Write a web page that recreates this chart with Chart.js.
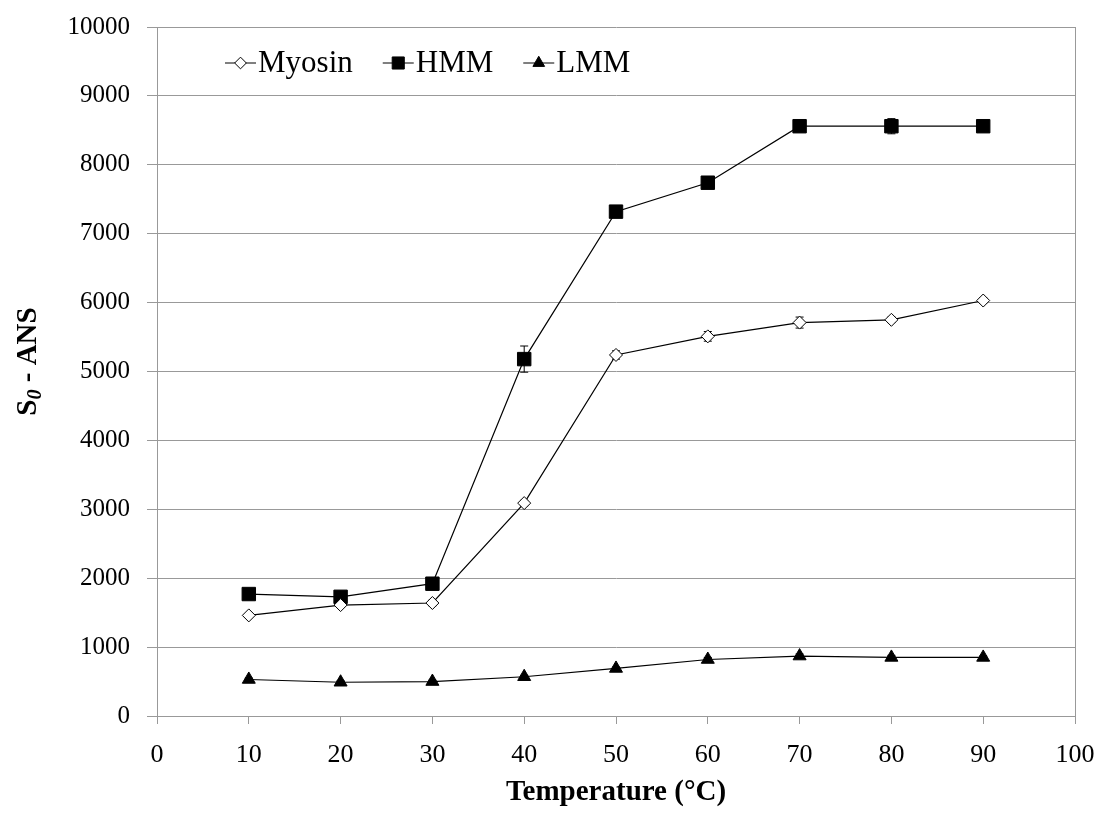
<!DOCTYPE html>
<html>
<head>
<meta charset="utf-8">
<script src="https://cdn.jsdelivr.net/npm/chart.js@4.4.0/dist/chart.umd.min.js"></script>
<style>
  html, body { margin: 0; padding: 0; background: #fff; }
  #wrap { width: 1100px; height: 820px; }
</style>
</head>
<body>
<div id="wrap"><canvas id="myChart" width="1100" height="820"></canvas></div>
<script>
// Temperatures (x axis) and S0 values
const temps = [10, 20, 30, 40, 50, 60, 70, 80, 90];
const myosin = [1460, 1610, 1640, 3090, 5240, 5510, 5710, 5750, 6030];
const hmm = [1770, 1730, 1920, 5180, 7320, 7740, 8560, 8560, 8560];
const lmm = [530, 490, 500, 570, 690, 820, 870, 850, 850];

// error bar half-heights
const myosinErr = [20, 30, 40, 40, 60, 70, 80, 40, 40];
const hmmErr = [40, 40, 50, 190, 50, 40, 50, 110, 40];
const lmmErr = [20, 20, 20, 20, 20, 30, 30, 30, 20];

const seriesNames = ["Myosin", "HMM", "LMM"];
const xTicks = [0, 100, 10];       // min, max, step
const yTicks = [0, 10000, 1000];

const serif = "'Liberation Serif', 'Times New Roman', serif";

function points(vals) {
    let out = [];
    for (let i = 0; i < temps.length; i++) {
        out.push({x: temps[i], y: vals[i]});
    }
    return out;
}

// Draws the vertical error bars under the markers
const errorBars = {
    id: 'errorBars',
    beforeDatasetsDraw(chart) {
        const ctx = chart.ctx;
        const xs = chart.scales.x, ys = chart.scales.y;
        ctx.save();
        ctx.strokeStyle = '#000';
        ctx.lineWidth = 1;
        chart.data.datasets.forEach(function(ds) {
            for (let i = 0; i < ds.data.length; i++) {
                let px = xs.getPixelForValue(ds.data[i].x);
                let top = ys.getPixelForValue(ds.data[i].y + ds.err[i]);
                let bot = ys.getPixelForValue(ds.data[i].y - ds.err[i]);
                ctx.beginPath();
                ctx.moveTo(px, top); ctx.lineTo(px, bot);
                ctx.moveTo(px - 4, top); ctx.lineTo(px + 4, top);
                ctx.moveTo(px - 4, bot); ctx.lineTo(px + 4, bot);
                ctx.stroke();
            }
        });
        ctx.restore();
    }
};

// Legend inside the plot (line + marker + name) and the y title with subscript
const extras = {
    id: 'extras',
    afterDraw(chart) {
        const ctx = chart.ctx;
        const area = chart.chartArea;
        ctx.save();

        // legend
        let x = area.left + 68;
        let y = area.top + 36;
        ctx.font = "31px " + serif;
        ctx.textBaseline = 'middle';
        chart.data.datasets.forEach(function(ds) {
            ctx.strokeStyle = '#000';
            ctx.lineWidth = 1;
            ctx.beginPath();
            ctx.moveTo(x, y); ctx.lineTo(x + 31, y);
            ctx.stroke();
            ctx.fillStyle = ds.pointBackgroundColor;
            Chart.helpers.drawPoint(ctx, {
                pointStyle: ds.pointStyle,
                radius: ds.pointRadius * 0.9,
                rotation: 0,
                borderWidth: 1
            }, x + 15.5, y);
            ctx.fillStyle = '#000';
            ctx.fillText(ds.label, x + 33, y + 1);
            x += 33 + ctx.measureText(ds.label).width + 30;
        });

        // y axis title: S0 - ANS
        ctx.translate(29, (area.top + area.bottom) / 2 - 10);
        ctx.rotate(-Math.PI / 2);
        ctx.textBaseline = 'middle';
        ctx.font = "bold 29px " + serif;
        let w1 = ctx.measureText("S").width;
        ctx.font = "bold italic 20px " + serif;
        let w2 = ctx.measureText("0").width;
        ctx.font = "bold 29px " + serif;
        let w3 = ctx.measureText(" - ANS").width;
        let sx = -(w1 + w2 + w3) / 2;
        ctx.fillText("S", sx, 0);
        ctx.font = "bold italic 20px " + serif;
        ctx.fillText("0", sx + w1, 7);
        ctx.font = "bold 29px " + serif;
        ctx.fillText(" - ANS", sx + w1 + w2, 0);
        ctx.restore();
    }
};

const colorsFill = ['#fff', '#000', '#000'];
const styles = ['rectRot', 'rect', 'triangle'];
const radii = [6.5, 9.5, 7.5];
const allVals = [myosin, hmm, lmm];
const allErr = [myosinErr, hmmErr, lmmErr];

let datasets = [];
for (let i = 0; i < seriesNames.length; i++) {
    datasets.push({
        label: seriesNames[i],
        data: points(allVals[i]),
        err: allErr[i],
        borderColor: '#000',
        borderWidth: 1.2,
        pointStyle: styles[i],
        pointRadius: radii[i],
        pointBackgroundColor: colorsFill[i],
        pointBorderColor: '#000',
        pointBorderWidth: 1,
        tension: 0,
        fill: false
    });
}

const config = {
    type: 'line',
    data: { datasets: datasets },
    options: {
        responsive: false,
        animation: false,
        layout: { padding: { left: 0, right: 25, top: 27, bottom: 0 } },
        plugins: {
            legend: { display: false },
            tooltip: { enabled: false }
        },
        scales: {
            x: {
                type: 'linear',
                min: xTicks[0], max: xTicks[1],
                ticks: {
                    stepSize: xTicks[2],
                    color: '#000',
                    font: { family: serif, size: 26 },
                    padding: 16
                },
                grid: {
                    color: function(c) { return c.tick && c.tick.value === 100 ? '#999' : 'rgba(0,0,0,0)'; },
                    tickColor: '#999',
                    tickLength: 8
                },
                border: { color: '#999' },
                title: {
                    display: true,
                    text: 'Temperature (°C)',
                    color: '#000',
                    font: { family: serif, size: 29, weight: 'bold' },
                    padding: { top: 0, bottom: 10 }
                },
                afterFit: function(s) {
                    s.height = 104;
                    s.paddingLeft = 0;
                    s.paddingRight = 0;
                }
            },
            y: {
                min: yTicks[0], max: yTicks[1],
                ticks: {
                    stepSize: yTicks[2],
                    color: '#000',
                    font: { family: serif, size: 25 },
                    padding: 17,
                    callback: function(v) { return String(v); }
                },
                grid: {
                    color: '#999',
                    tickColor: '#999',
                    tickLength: 10
                },
                border: { color: '#999' },
                afterFit: function(s) {
                    s.width = 157;
                    s.paddingTop = 0;
                    s.paddingBottom = 0;
                }
            }
        }
    },
    plugins: [errorBars, extras]
};

const myChart = new Chart(document.getElementById('myChart'), config);
</script>
</body>
</html>
